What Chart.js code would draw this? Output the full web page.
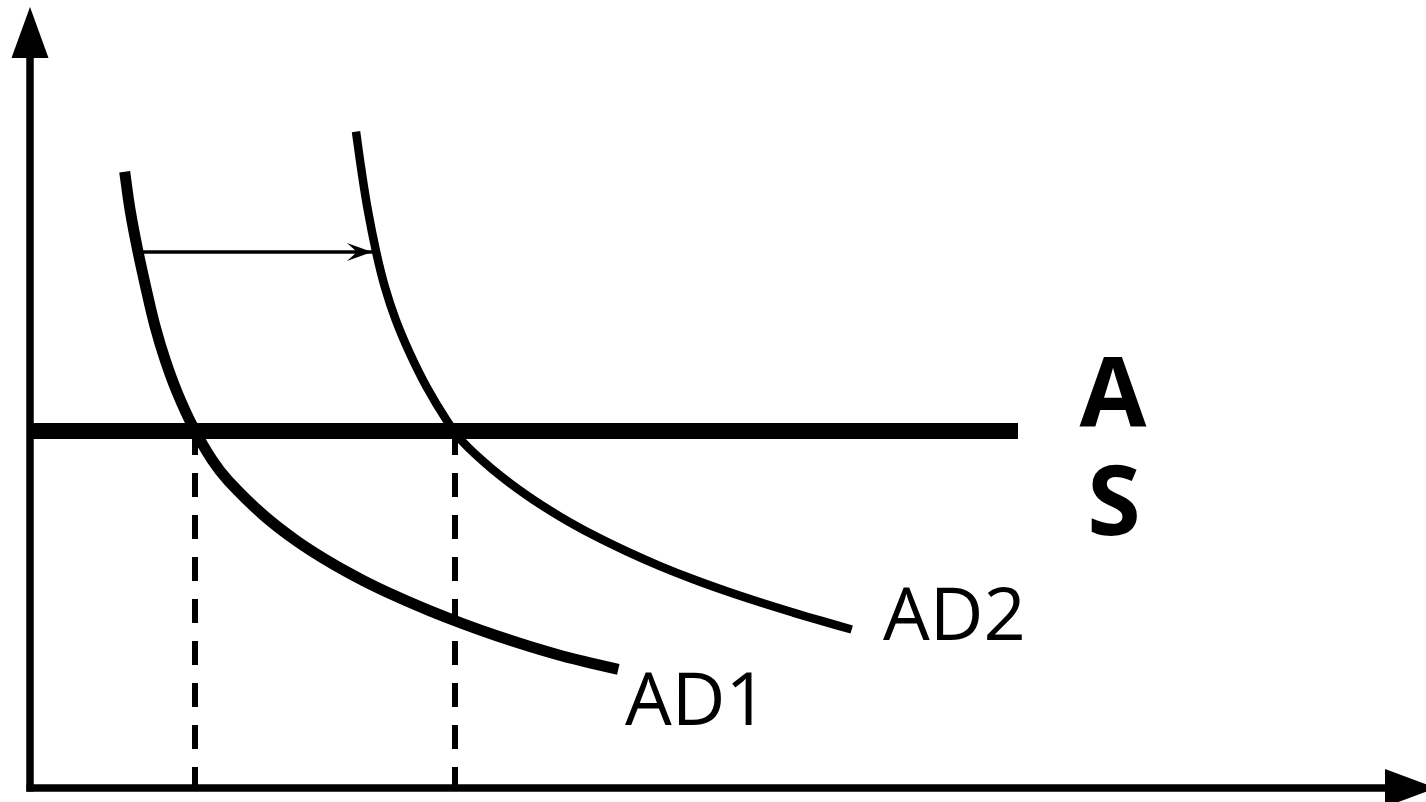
<!DOCTYPE html>
<html>
<head>
<meta charset="utf-8">
<script src="https://cdn.jsdelivr.net/npm/chart.js@4/dist/chart.umd.min.js"></script>
<style>
  html, body { margin: 0; padding: 0; background: #ffffff; }
  #wrap { width: 1426px; height: 802px; position: relative; }
</style>
</head>
<body>
<div id="wrap"><canvas id="c"></canvas></div>
<script>
// ---- data (units: output on x, price level on y) ----
const AD1_X = [9.47, 10.01, 10.80, 11.71, 12.52, 13.52, 14.74, 16.29, 18.22, 19.83, 23.33, 26.67, 30.00, 33.33, 36.67, 40.00, 43.33, 46.67, 50.00, 53.33, 56.00, 58.83];
const AD1_Y = [61.63, 57.80, 53.63, 49.50, 46.13, 42.80, 39.50, 36.13, 32.80, 30.73, 27.30, 24.70, 22.57, 20.74, 19.14, 17.71, 16.41, 15.22, 14.15, 13.18, 12.52, 11.86];
const AD2_X = [32.60, 33.14, 33.78, 34.64, 35.48, 36.58, 37.97, 39.65, 41.65, 43.25, 46.33, 49.67, 53.00, 56.33, 59.67, 63.00, 66.33, 69.67, 73.00, 76.33, 79.25, 82.17];
const AD2_Y = [65.63, 61.80, 57.80, 53.50, 50.13, 46.80, 43.50, 40.13, 36.80, 34.63, 31.80, 29.27, 27.14, 25.29, 23.66, 22.19, 20.87, 19.67, 18.57, 17.54, 16.68, 15.85];
const AS_LEVEL = 35.7;
const AS_X = [0, 98.8];
const EQ_X = [16.5, 42.5];          // equilibrium outputs (dashed drop lines)
const SHIFT_X = [11.3, 34.2];       // shift arrow from AD1 to AD2
const SHIFT_Y = 53.6;
const LABELS = ['AD1', 'AD2', 'A', 'S'];

const toPts = (xs, ys) => xs.map((x, i) => ({ x: x, y: ys[i] }));

const base = { showLine: true, pointRadius: 0, borderColor: '#000', fill: false, borderCapStyle: 'butt', borderJoinStyle: 'round' };

const datasets = [
  Object.assign({}, base, { label: 'AS', data: AS_X.map(x => ({ x: x, y: AS_LEVEL })), borderWidth: 16 }),
  Object.assign({}, base, { label: 'AD1', data: toPts(AD1_X, AD1_Y), borderWidth: 11, tension: 0.4 }),
  Object.assign({}, base, { label: 'AD2', data: toPts(AD2_X, AD2_Y), borderWidth: 8.5, tension: 0.4 }),
  Object.assign({}, base, { label: 'eq1', data: [{ x: EQ_X[0], y: AS_LEVEL }, { x: EQ_X[0], y: 0 }], borderWidth: 6, borderDash: [24, 18] }),
  Object.assign({}, base, { label: 'eq2', data: [{ x: EQ_X[1], y: AS_LEVEL }, { x: EQ_X[1], y: 0 }], borderWidth: 6, borderDash: [24, 18] }),
  Object.assign({}, base, { label: 'shift', data: SHIFT_X.map(x => ({ x: x, y: SHIFT_Y })), borderWidth: 3.5 })
];

const decor = {
  id: 'decor',
  afterDatasetsDraw(chart) {
    const ctx = chart.ctx;
    const xs = chart.scales.x, ys = chart.scales.y;
    const ox = xs.getPixelForValue(0), oy = ys.getPixelForValue(0);
    ctx.save();
    ctx.fillStyle = '#000';
    ctx.strokeStyle = '#000';
    // y axis
    ctx.lineWidth = 7.5;
    ctx.beginPath();
    ctx.moveTo(ox, oy + 3.5);
    ctx.lineTo(ox, 56);
    ctx.stroke();
    ctx.beginPath();
    ctx.moveTo(ox, 7);
    ctx.lineTo(ox - 18.5, 58);
    ctx.lineTo(ox + 18.5, 58);
    ctx.closePath();
    ctx.fill();
    // x axis
    ctx.beginPath();
    ctx.moveTo(ox - 3.5, oy);
    ctx.lineTo(1387, oy);
    ctx.stroke();
    ctx.beginPath();
    ctx.moveTo(1436, oy);
    ctx.lineTo(1385, oy - 19);
    ctx.lineTo(1385, oy + 19);
    ctx.closePath();
    ctx.fill();
    // shift arrow head (stealth)
    const tx = xs.getPixelForValue(SHIFT_X[1]), ty = ys.getPixelForValue(SHIFT_Y);
    ctx.beginPath();
    ctx.moveTo(tx, ty);
    ctx.lineTo(tx - 25, ty - 9);
    ctx.lineTo(tx - 15, ty);
    ctx.lineTo(tx - 25, ty + 9);
    ctx.closePath();
    ctx.fill();
    // labels
    ctx.textBaseline = 'alphabetic';
    ctx.textAlign = 'left';
    ctx.font = '74px "Open Sans"';
    ctx.fillText(LABELS[0], 625, 725);
    ctx.fillText(LABELS[1], 883, 640);
    ctx.textAlign = 'center';
    ctx.font = 'bold 97px "Open Sans"';
    ctx.fillText(LABELS[2], 1113, 427);
    ctx.fillText(LABELS[3], 1114, 535);
    ctx.restore();
  }
};

new Chart(document.getElementById('c'), {
  type: 'scatter',
  data: { datasets: datasets },
  options: {
    responsive: true,
    maintainAspectRatio: false,
    animation: false,
    layout: { padding: { left: 30, right: 0, top: 0, bottom: 14 } },
    plugins: { legend: { display: false }, tooltip: { enabled: false } },
    scales: {
      x: { type: 'linear', min: 0, max: 139.6, display: false },
      y: { type: 'linear', min: 0, max: 78.8, display: false }
    },
    clip: false
  },
  plugins: [decor]
});
</script>
</body>
</html>
